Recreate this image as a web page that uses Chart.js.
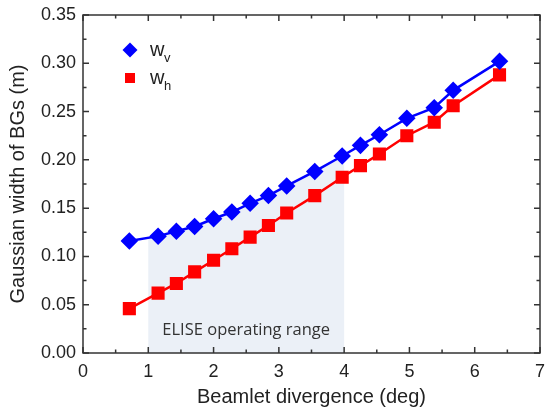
<!DOCTYPE html>
<html>
<head>
<meta charset="utf-8">
<script src="https://cdn.jsdelivr.net/npm/chart.js@4/dist/chart.umd.min.js"></script>
<style>
  html, body { margin: 0; padding: 0; background: #fff; overflow: hidden; }
  #wrap { width: 550px; height: 412px; position: relative; }
</style>
</head>
<body>
<div id="wrap"><canvas id="widthChart"></canvas></div>
<script>
// beamlet divergence (deg)
const divergence = [0.71, 1.15, 1.43, 1.71, 2.00, 2.28, 2.56, 2.84, 3.12, 3.55, 3.97, 4.25, 4.54, 4.96, 5.38, 5.67, 6.38];
// gaussian width, vertical (m)
const widthV = [0.116, 0.121, 0.126, 0.131, 0.139, 0.146, 0.155, 0.163, 0.173, 0.188, 0.204, 0.215, 0.226, 0.243, 0.254, 0.272, 0.302];
// gaussian width, horizontal (m)
const widthH = [0.046, 0.062, 0.072, 0.084, 0.096, 0.108, 0.120, 0.132, 0.145, 0.163, 0.182, 0.194, 0.206, 0.225, 0.239, 0.256, 0.288];
// ELISE operating range (deg)
const eliseRange = [1, 4];
const eliseLabel = 'ELISE operating range';

const toPoints = (ys) => divergence.map((x, i) => ({ x: x, y: ys[i] }));

const axisFont = { family: "'Liberation Sans', Arial, sans-serif", size: 18 };
const titleFont = { family: "'Liberation Sans', Arial, sans-serif", size: 20 };

// shaded band under the w_v curve, between the range limits
const rangeShade = {
  id: 'rangeShade',
  beforeDatasetsDraw(chart) {
    const { ctx, scales: { x, y } } = chart;
    const pts = chart.getDatasetMeta(0).data;
    const x0 = x.getPixelForValue(eliseRange[0]);
    const x1 = x.getPixelForValue(eliseRange[1]);
    const yb = y.getPixelForValue(0);
    ctx.save();
    ctx.beginPath();
    ctx.rect(x0, 0, x1 - x0, yb);
    ctx.clip();
    ctx.beginPath();
    ctx.moveTo(pts[0].x, yb);
    pts.forEach((p) => ctx.lineTo(p.x, p.y));
    ctx.lineTo(pts[pts.length - 1].x, yb);
    ctx.closePath();
    ctx.fillStyle = '#ebf0f7';
    ctx.fill();
    ctx.restore();

    ctx.save();
    ctx.font = "16.5px 'Open Sans', sans-serif";
    ctx.fillStyle = '#333';
    ctx.textAlign = 'center';
    ctx.textBaseline = 'middle';
    ctx.fillText(eliseLabel, x.getPixelForValue((eliseRange[0] + eliseRange[1]) / 2), y.getPixelForValue(0.023));
    ctx.restore();
  }
};

// box frame with inward ticks on all four sides, plus legend
const frameTicks = {
  id: 'frameTicks',
  afterDraw(chart) {
    const { ctx, chartArea: a, scales: { x, y } } = chart;
    ctx.save();
    ctx.strokeStyle = '#333';
    ctx.lineWidth = 1.5;
    ctx.strokeRect(a.left, a.top, a.right - a.left, a.bottom - a.top);
    ctx.beginPath();
    for (let v = 0; v <= 7.001; v += 0.5) {
      const px = x.getPixelForValue(v);
      const len = Math.abs(v - Math.round(v)) < 1e-6 ? 6 : 3.5;
      ctx.moveTo(px, a.bottom); ctx.lineTo(px, a.bottom - len);
      ctx.moveTo(px, a.top); ctx.lineTo(px, a.top + len);
    }
    for (let i = 0; i <= 14; i++) {
      const py = y.getPixelForValue(i * 0.025);
      const len = i % 2 === 0 ? 6 : 3.5;
      ctx.moveTo(a.left, py); ctx.lineTo(a.left + len, py);
      ctx.moveTo(a.right, py); ctx.lineTo(a.right - len, py);
    }
    ctx.stroke();

    // legend
    const items = [
      { ds: 0, sub: 'v', y: 50 },
      { ds: 1, sub: 'h', y: 78 }
    ];
    items.forEach((it) => {
      const d = chart.data.datasets[it.ds];
      ctx.fillStyle = d.backgroundColor;
      ctx.beginPath();
      if (d.pointStyle === 'rectRot') {
        ctx.moveTo(130, it.y - 7.5); ctx.lineTo(137.5, it.y); ctx.lineTo(130, it.y + 7.5); ctx.lineTo(122.5, it.y);
        ctx.closePath();
      } else {
        ctx.rect(125, it.y - 5, 10, 10);
      }
      ctx.fill();
      ctx.fillStyle = '#222';
      ctx.textBaseline = 'alphabetic';
      ctx.textAlign = 'left';
      ctx.font = "20px 'Liberation Sans', Arial, sans-serif";
      ctx.fillText('w', 150, it.y + 6);
      ctx.font = "13px 'Liberation Sans', Arial, sans-serif";
      ctx.fillText(it.sub, 164, it.y + 12);
    });
    ctx.restore();
  }
};

new Chart(document.getElementById('widthChart'), {
  type: 'scatter',
  data: {
    datasets: [
      {
        label: 'wv',
        data: toPoints(widthV),
        showLine: true,
        borderColor: '#0000ff',
        backgroundColor: '#0000ff',
        borderWidth: 2.5,
        pointStyle: 'rectRot',
        pointRadius: 7,
        pointHoverRadius: 7
      },
      {
        label: 'wh',
        data: toPoints(widthH),
        showLine: true,
        borderColor: '#ff0000',
        backgroundColor: '#ff0000',
        borderWidth: 2.5,
        pointStyle: 'rect',
        pointRadius: 7.5,
        pointHoverRadius: 7.5
      }
    ]
  },
  options: {
    responsive: true,
    maintainAspectRatio: false,
    animation: false,
    layout: { padding: { top: 15, right: 5, left: 0, bottom: 0 } },
    plugins: {
      legend: { display: false },
      tooltip: { enabled: false }
    },
    scales: {
      x: {
        type: 'linear',
        min: 0,
        max: 7,
        ticks: { stepSize: 1, font: axisFont, color: '#222', padding: 8, maxRotation: 0 },
        grid: { display: false, drawTicks: false },
        border: { display: false },
        title: { display: true, text: 'Beamlet divergence (deg)', font: titleFont, color: '#222', padding: { top: 2, bottom: 3 } },
        afterFit(scale) {
          scale.height = 59;
          scale.paddingLeft = 0;
          scale.paddingRight = 0;
        }
      },
      y: {
        min: 0,
        max: 0.35,
        ticks: { stepSize: 0.05, font: axisFont, color: '#222', padding: 7, callback: (v) => v.toFixed(2) },
        grid: { display: false, drawTicks: false },
        border: { display: false },
        title: { display: true, text: 'Gaussian width of BGs (m)', font: titleFont, color: '#222', padding: { top: 6, bottom: 0 } },
        afterFit(scale) {
          scale.width = 83;
          scale.paddingTop = 0;
          scale.paddingBottom = 0;
        }
      }
    }
  },
  plugins: [rangeShade, frameTicks]
});
</script>
</body>
</html>
